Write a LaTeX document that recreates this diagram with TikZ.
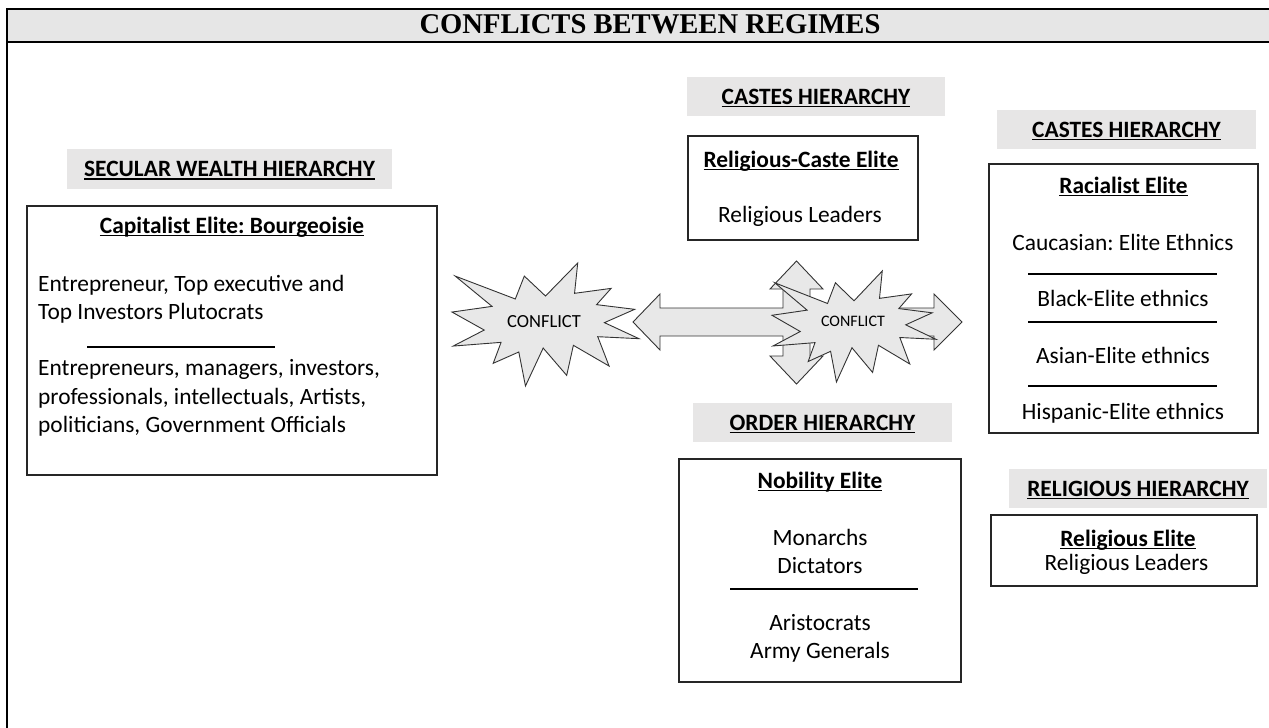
\documentclass[tikz,border=0pt]{standalone}
\usepackage{fontspec}
\setmainfont{Carlito}
\newfontfamily\titlefont{Liberation Serif}
\frenchspacing
\definecolor{hdrgray}{HTML}{E7E6E6}
\definecolor{bargray}{HTML}{E6E6E6}
\definecolor{burstgray}{HTML}{E8E8E8}
\newsavebox\ulbox
\newcommand\ulx[1]{\sbox\ulbox{#1}\rlap{\rule[-3.2pt]{\wd\ulbox}{1.5pt}}\usebox\ulbox}
\tikzset{
  hdr/.style={fill=hdrgray, inner sep=0pt, font=\fontsize{23.4}{28}\selectfont\bfseries, text height=15pt, text depth=0pt, anchor=center},
  ebox/.style={draw=black!85, line width=1.2pt, inner sep=0pt},
  body/.style={font=\fontsize{23.4}{28}\selectfont, inner sep=0pt, anchor=base},
  bodyw/.style={body, anchor=base west},
  ttl/.style={body, font=\fontsize{23.4}{28}\selectfont\bfseries},
  sepline/.style={line width=2.6pt},
  burst/.style={fill=burstgray, draw=black!80, line width=0.9pt, line join=miter},
  cfl/.style={inner sep=0pt, anchor=base},
}
\begin{document}
\begin{tikzpicture}[x=1pt, y=-1pt]
\useasboundingbox (0,0) rectangle (1269,728);
% frame and title bar
\fill[bargray] (7,9) rectangle (1285,42);
\draw[line width=2.4pt] (7,745) -- (7,9) -- (1285,9);
\draw[line width=2.4pt] (7,42) -- (1285,42);
\node[inner sep=0pt, anchor=base, font={\titlefont\fontsize{28.6}{30}\selectfont\bfseries}] (title) at (650,34) {CONFLICTS BETWEEN REGIMES};

% headers
\node[hdr, minimum width=325pt, minimum height=40pt] (hsec) at (229.5,169) {\ulx{SECULAR WEALTH HIERARCHY}};
\node[hdr, minimum width=258pt, minimum height=39pt] (hcast1) at (816,96.5) {\ulx{CASTES HIERARCHY}};
\node[hdr, minimum width=259pt, minimum height=39pt] (hcast2) at (1126.5,129.5) {\ulx{CASTES HIERARCHY}};
\node[hdr, minimum width=259pt, minimum height=39pt] (hord) at (822.5,422.5) {\ulx{ORDER HIERARCHY}};
\node[hdr, minimum width=258pt, minimum height=39pt] (hrel) at (1138,488.5) {\ulx{RELIGIOUS HIERARCHY}};

% boxes
\node[ebox, minimum width=410pt, minimum height=269pt] (capbox) at (232,340.5) {};
\node[ebox, minimum width=230pt, minimum height=104pt] (rcbox) at (803,188) {};
\node[ebox, minimum width=269pt, minimum height=269pt] (racbox) at (1123.5,298.5) {};
\node[ebox, minimum width=282pt, minimum height=223pt] (nobbox) at (820,570.5) {};
\node[ebox, minimum width=266pt, minimum height=71pt] (relbox) at (1124,550.5) {};

% capitalist box text
\node[ttl] (capt) at (232,233) {\ulx{Capitalist Elite: Bourgeoisie}};
\node[bodyw] (cap1) at (38,291) {Entrepreneur, Top executive and};
\node[bodyw] (cap2) at (38,319.5) {Top Investors Plutocrats};
\coordinate (capsa) at (87,347);
\coordinate (capsb) at (275,347);
\draw[sepline] (capsa) -- (capsb);
\node[bodyw] (cap3) at (38,375.5) {Entrepreneurs, managers, investors,};
\node[bodyw] (cap4) at (38,404) {professionals, intellectuals, Artists,};
\node[bodyw] (cap5) at (38,432.5) {politicians, Government Officials};

% religious-caste box
\node[ttl] (rct) at (801,167) {\ulx{Religious-Caste Elite}};
\node[body] (rc1) at (800,222) {Religious Leaders};

% racialist box
\node[ttl] (rat) at (1123.5,193) {\ulx{Racialist Elite}};
\node[body] (ra1) at (1123,250.5) {Caucasian: Elite Ethnics};
\coordinate (ras1a) at (1028,274); \coordinate (ras1b) at (1217,274);
\draw[sepline] (ras1a) -- (ras1b);
\node[body] (ra2) at (1123,306.5) {Black-Elite ethnics};
\coordinate (ras2a) at (1028,322); \coordinate (ras2b) at (1217,322);
\draw[sepline] (ras2a) -- (ras2b);
\node[body] (ra3) at (1123,363) {Asian-Elite ethnics};
\coordinate (ras3a) at (1028,386); \coordinate (ras3b) at (1217,386);
\draw[sepline] (ras3a) -- (ras3b);
\node[body] (ra4) at (1123,419.5) {Hispanic-Elite ethnics};

% nobility box
\node[ttl] (nobt) at (820,488) {\ulx{Nobility Elite}};
\node[body] (nob1) at (820,545) {Monarchs};
\node[body] (nob2) at (820,573) {Dictators};
\coordinate (nobsa) at (730,589); \coordinate (nobsb) at (918,589);
\draw[sepline] (nobsa) -- (nobsb);
\node[body] (nob3) at (820,630) {Aristocrats};
\node[body] (nob4) at (820,658.5) {Army Generals};

% religious elite box
\node[ttl] (relt) at (1128,546) {\ulx{Religious Elite}};
\node[body] (rel1) at (1126.5,570) {Religious Leaders};

% left starburst
\begin{scope}[shift={(452,263)}, xscale=0.8657, yscale=0.5694]
\draw[burst] (108.00,58.00) -- (145.22,0) -- (141.55,53.25) -- (183.80,44.57) -- (167.02,73.15) -- (210.97,81.37) -- (176.07,104.75) -- (216,132.90) -- (168.37,129.42) -- (181.45,180.95) -- (140.20,144.57) -- (132.47,197.37) -- (105.32,149.35) -- (84.85,216) -- (77.15,156.27) -- (47.62,176.17) -- (56.67,139.37) -- (1.35,145.87) -- (37.22,117.75) -- (0,86.15) -- (46.27,76.17) -- (3.70,22.95) -- (73.12,63.20) -- (83.52,22.95) -- cycle;
\end{scope}
\node[cfl, font=\fontsize{18.5}{20}\selectfont] (conf1) at (544,327.5) {CONFLICT};

% quad arrow
\draw[burst] (633,322) -- (660,294) -- (660,308) -- (783,308) -- (783,289) -- (770,289) -- (796.5,261) -- (823,289) -- (810,289) -- (810,308) -- (934,308) -- (934,294) -- (962,322) -- (934,350) -- (934,336) -- (810,336) -- (810,356) -- (823,356) -- (796.5,384) -- (770,356) -- (783,356) -- (783,336) -- (660,336) -- (660,350) -- cycle;

% right starburst
\begin{scope}[shift={(772,271)}, xscale=0.7593, yscale=0.5139]
\draw[burst] (108.00,58.00) -- (145.22,0) -- (141.55,53.25) -- (183.80,44.57) -- (167.02,73.15) -- (210.97,81.37) -- (176.07,104.75) -- (216,132.90) -- (168.37,129.42) -- (181.45,180.95) -- (140.20,144.57) -- (132.47,197.37) -- (105.32,149.35) -- (84.85,216) -- (77.15,156.27) -- (47.62,176.17) -- (56.67,139.37) -- (1.35,145.87) -- (37.22,117.75) -- (0,86.15) -- (46.27,76.17) -- (3.70,22.95) -- (73.12,63.20) -- (83.52,22.95) -- cycle;
\end{scope}
\node[cfl, font=\fontsize{16}{18}\selectfont] (conf2) at (853,326.5) {CONFLICT};
\end{tikzpicture}
\end{document}
